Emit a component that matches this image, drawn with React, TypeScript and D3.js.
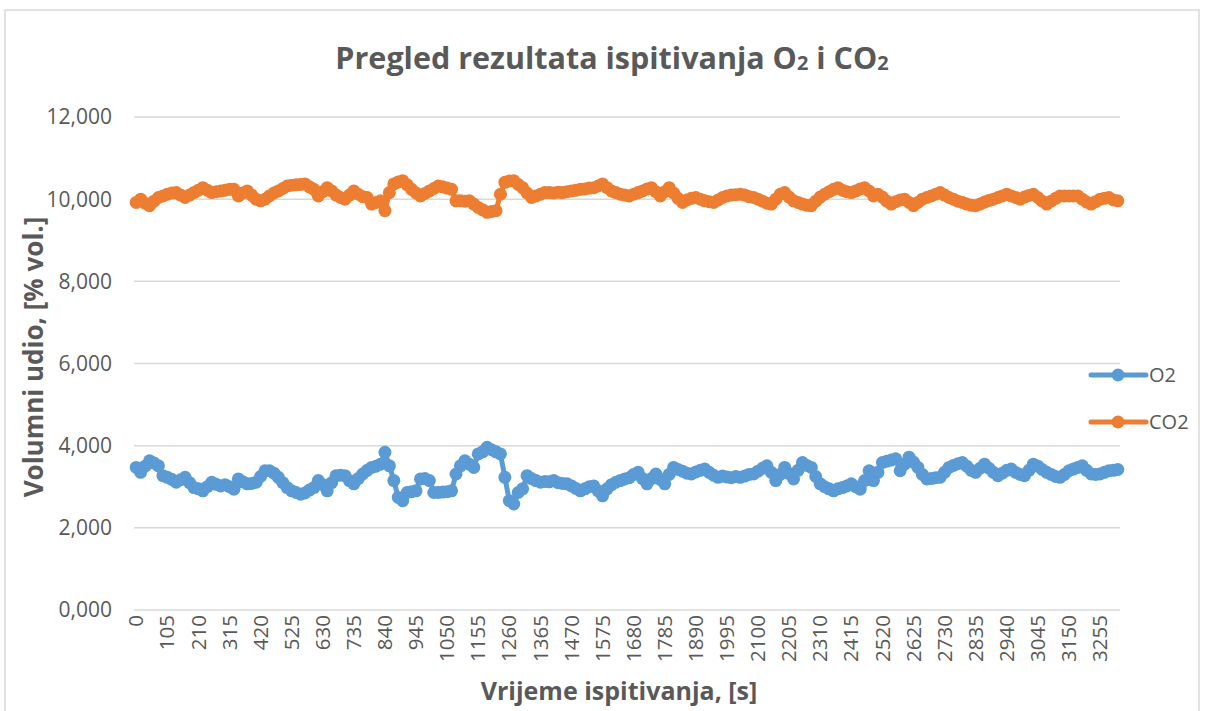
// App.tsx
// O2 / CO2 test results line chart, drawn with d3 scales in JSX
import * as d3 from 'd3';
import React from 'react';

// time axis: one reading every 15 s
const times: number[] = d3.range(0, 3330, 15);

// O2, % vol.
const o2: number[] = [
  3.47, 3.35, 3.50, 3.63, 3.58, 3.51, 3.27, 3.23, 3.18, 3.11,
  3.17, 3.23, 3.10, 2.98, 2.95, 2.90, 3.00, 3.11, 3.06, 3.02,
  3.05, 3.00, 2.94, 3.19, 3.12, 3.07, 3.08, 3.11, 3.25, 3.39,
  3.39, 3.33, 3.23, 3.10, 2.98, 2.90, 2.86, 2.82, 2.85, 2.92,
  2.98, 3.15, 3.05, 2.90, 3.10, 3.27, 3.28, 3.27, 3.15, 3.07,
  3.20, 3.31, 3.40, 3.47, 3.50, 3.55, 3.84, 3.51, 3.15, 2.74,
  2.66, 2.86, 2.88, 2.90, 3.19, 3.20, 3.15, 2.86, 2.86, 2.87,
  2.88, 2.90, 3.31, 3.51, 3.63, 3.55, 3.47, 3.80, 3.85, 3.96,
  3.90, 3.85, 3.80, 3.23, 2.66, 2.58, 2.86, 2.95, 3.27, 3.20,
  3.15, 3.11, 3.13, 3.12, 3.15, 3.10, 3.08, 3.07, 3.02, 2.96,
  2.90, 2.95, 3.00, 3.02, 2.90, 2.78, 2.95, 3.05, 3.11, 3.15,
  3.19, 3.22, 3.30, 3.35, 3.20, 3.07, 3.20, 3.31, 3.18, 3.07,
  3.30, 3.47, 3.42, 3.38, 3.33, 3.31, 3.36, 3.40, 3.43, 3.35,
  3.28, 3.23, 3.26, 3.24, 3.22, 3.25, 3.23, 3.26, 3.30, 3.31,
  3.38, 3.45, 3.51, 3.35, 3.15, 3.30, 3.47, 3.32, 3.19, 3.40,
  3.59, 3.52, 3.47, 3.25, 3.07, 3.00, 2.95, 2.90, 2.95, 2.98,
  3.02, 3.07, 3.00, 2.94, 3.15, 3.39, 3.15, 3.35, 3.59, 3.62,
  3.65, 3.68, 3.39, 3.55, 3.72, 3.60, 3.47, 3.30, 3.19, 3.20,
  3.22, 3.23, 3.35, 3.47, 3.52, 3.56, 3.59, 3.50, 3.40, 3.35,
  3.45, 3.55, 3.45, 3.35, 3.27, 3.33, 3.40, 3.43, 3.35, 3.30,
  3.27, 3.40, 3.55, 3.50, 3.42, 3.35, 3.30, 3.25, 3.23, 3.30,
  3.39, 3.43, 3.47, 3.51, 3.40, 3.31, 3.30, 3.31, 3.35, 3.39,
  3.40, 3.42,
];

// CO2, % vol.
const co2: number[] = [
  9.92, 10.00, 9.90, 9.84, 9.95, 10.04, 10.08, 10.12, 10.15, 10.16,
  10.10, 10.04, 10.10, 10.16, 10.22, 10.28, 10.22, 10.16, 10.18, 10.20,
  10.22, 10.24, 10.24, 10.08, 10.15, 10.20, 10.10, 10.00, 9.96, 10.00,
  10.08, 10.15, 10.20, 10.26, 10.32, 10.34, 10.35, 10.36, 10.37, 10.30,
  10.24, 10.08, 10.18, 10.28, 10.20, 10.10, 10.04, 10.00, 10.10, 10.20,
  10.12, 10.06, 10.04, 9.88, 9.92, 9.96, 9.72, 10.16, 10.37, 10.42,
  10.45, 10.35, 10.24, 10.15, 10.08, 10.14, 10.20, 10.26, 10.32, 10.30,
  10.27, 10.24, 9.96, 9.96, 9.95, 9.96, 9.88, 9.80, 9.74, 9.68,
  9.70, 9.72, 10.12, 10.41, 10.44, 10.45, 10.36, 10.28, 10.15, 10.04,
  10.08, 10.12, 10.16, 10.16, 10.15, 10.17, 10.16, 10.18, 10.20, 10.22,
  10.24, 10.25, 10.27, 10.28, 10.32, 10.37, 10.28, 10.20, 10.16, 10.12,
  10.10, 10.08, 10.12, 10.16, 10.20, 10.25, 10.28, 10.18, 10.08, 10.18,
  10.28, 10.15, 10.02, 9.92, 9.98, 10.02, 10.04, 10.00, 9.96, 9.94,
  9.92, 9.98, 10.04, 10.08, 10.10, 10.11, 10.12, 10.10, 10.06, 10.04,
  10.00, 9.95, 9.90, 9.88, 10.00, 10.12, 10.16, 10.05, 9.96, 9.92,
  9.88, 9.85, 9.84, 9.95, 10.05, 10.12, 10.18, 10.24, 10.28, 10.22,
  10.18, 10.16, 10.20, 10.25, 10.28, 10.20, 10.08, 10.12, 10.05, 9.95,
  9.88, 9.94, 9.98, 10.00, 9.92, 9.84, 9.92, 10.00, 10.04, 10.08,
  10.12, 10.16, 10.10, 10.04, 10.00, 9.95, 9.92, 9.88, 9.85, 9.84,
  9.88, 9.93, 9.97, 10.00, 10.04, 10.08, 10.12, 10.08, 10.04, 10.00,
  10.05, 10.09, 10.12, 10.04, 9.95, 9.88, 9.95, 10.02, 10.08, 10.08,
  10.08, 10.08, 10.08, 10.00, 9.93, 9.88, 9.94, 10.00, 10.02, 10.04,
  9.98, 9.96,
];

const seriesNames = ['O2', 'CO2'];
const seriesColors = ['#5B9BD5', '#ED7D31'];
const yTicks = [0, 2, 4, 6, 8, 10, 12];

const W = 1208, H = 711;
const FONT = '"Open Sans", "DejaVu Sans", sans-serif';
const GRAY = '#595959';

export default function App() {
  const x = d3.scaleBand<number>()
    .domain(d3.range(times.length))
    .range([134, 1120])
    .padding(0);
  const y = d3.scaleLinear().domain([0, 12]).range([610, 117]);
  const cx = (i: number) => (x(i) as number) + x.bandwidth() / 2;
  const fmt = (v: number) => d3.format(',.3f')(v).replace('.', ',');

  const line = d3.line<number>()
    .x((d, i) => cx(i))
    .y(d => y(d));

  const all = [o2, co2];

  return (
    <svg width={W} height={H} style={{ position: 'absolute', left: 0, top: 0, background: '#fff' }}>
      <rect x={5} y={10} width={1194} height={720} fill="#fff" stroke="#D9D9D9" strokeWidth={1.5} />

      {/* title */}
      <text x={612} y={69} textAnchor="middle" fontFamily={FONT} fontWeight="bold" fontSize={30.5} fill={GRAY}>
        Pregled rezultata ispitivanja O<tspan fontSize={20} dy={1}>2</tspan>
        <tspan dy={-1}> i CO</tspan><tspan fontSize={20} dy={1}>2</tspan>
      </text>

      {/* grid + y ticks */}
      {yTicks.map(t => (
        <g key={t}>
          <line x1={134} x2={1120} y1={y(t)} y2={y(t)} stroke="#D9D9D9" strokeWidth={1.5} />
          <text x={112} y={y(t)} dy="0.35em" textAnchor="end" fontFamily={FONT} fontSize={21} fill={GRAY}>
            {fmt(t)}
          </text>
        </g>
      ))}

      {/* x ticks, every 7th category */}
      {times.map((t, i) => i % 7 === 0 ? (
        <text key={t} transform={`translate(${cx(i)},615) rotate(-90)`} dy="0.35em" textAnchor="end"
          fontFamily={FONT} fontSize={20.5} fill={GRAY}>{t}</text>
      ) : null)}

      {/* axis titles */}
      <text transform="translate(43,357) rotate(-90)" textAnchor="middle" fontFamily={FONT} fontWeight="bold" fontSize={26} fill={GRAY}>
        Volumni udio, [% vol.]
      </text>
      <text x={619} y={700} textAnchor="middle" fontFamily={FONT} fontWeight="bold" fontSize={25} fill={GRAY}>
        Vrijeme ispitivanja, [s]
      </text>

      {/* series */}
      {all.map((vals, s) => (
        <g key={seriesNames[s]}>
          <path d={line(vals) || ''} fill="none" stroke={seriesColors[s]} strokeWidth={5} strokeLinejoin="round" />
          {vals.map((v, i) => (
            <circle key={i} cx={cx(i)} cy={y(v)} r={6.5} fill={seriesColors[s]} />
          ))}
        </g>
      ))}

      {/* legend */}
      {seriesNames.map((n, s) => {
        const ly = 375 + s * 47;
        return (
          <g key={n}>
            <line x1={1091} x2={1146} y1={ly} y2={ly} stroke={seriesColors[s]} strokeWidth={5} strokeLinecap="round" />
            <circle cx={1118} cy={ly} r={6.5} fill={seriesColors[s]} />
            <text x={1149} y={ly} dy="0.35em" fontFamily={FONT} fontSize={20} fill={GRAY}>{n}</text>
          </g>
        );
      })}
    </svg>
  );
}
